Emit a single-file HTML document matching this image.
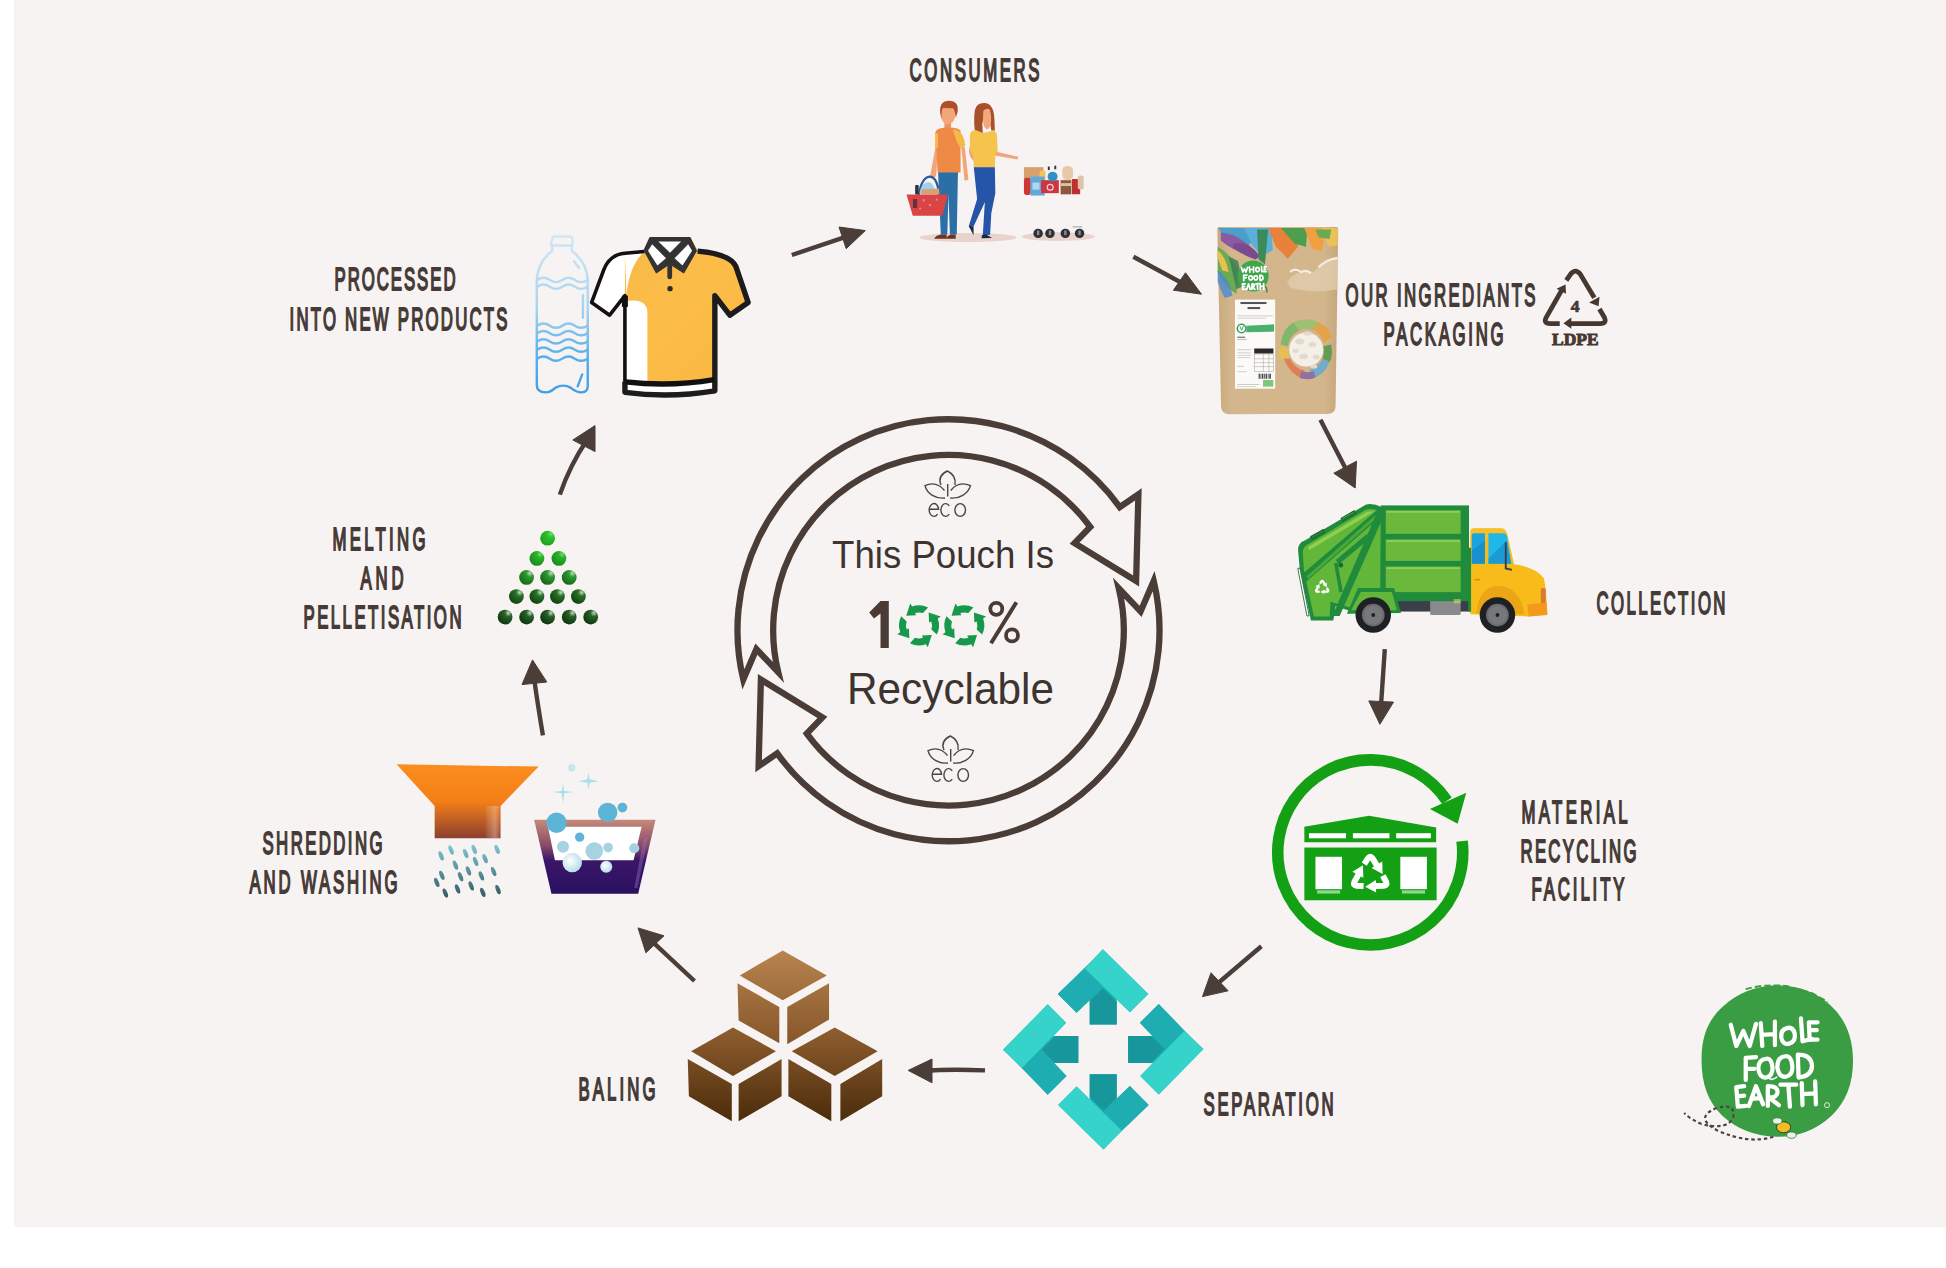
<!DOCTYPE html>
<html><head><meta charset="utf-8">
<style>
html,body{margin:0;padding:0;background:#fff;width:1946px;height:1268px;overflow:hidden}
svg{display:block}
.lb{font-family:"Liberation Sans",sans-serif;font-size:30.5px;fill:#463a36;stroke:#463a36;stroke-width:1.8px}
.rg{font-family:"Liberation Sans",sans-serif;fill:#3d3330}
</style></head>
<body>
<svg width="1946" height="1268" viewBox="0 0 1946 1268">
<defs>
<g id="rcy">
<g id="rca"><path d="M-14 -26 L-5 -40 Q0 -47 5 -40 L16 -22" fill="none" stroke-width="14" stroke-linejoin="round"/><polygon points="29,-3 3,-17 28,-32" stroke="none"/></g>
<use href="#rca" transform="rotate(120)"/><use href="#rca" transform="rotate(240)"/>
</g>
</defs>
<rect x="14" y="0" width="1932" height="1227" fill="#f7f3f2"/><rect x="14" y="0" width="10" height="1227" fill="#f5f4f2"/>

<!-- central recycling arrows -->
<g id="ring" fill="none" stroke="#4a3c37" stroke-width="6.3" stroke-linejoin="miter" stroke-miterlimit="10">
<path id="arw" d="M743.3 679.5 A211 211 0 0 1 1119.8 507.1 L1138.4 494.3 L1136.1 581.0 L1074.6 543.1 L1090.2 526.9 A175.4 175.4 0 0 0 778.2 672.1 L756.4 649.1 Z"/>
<use href="#arw" transform="rotate(180 948.5 630.25)"/>
</g>


<!-- 100% -->
<g fill="#4a3b35">
<polygon points="880.5,601 888.8,601 888.8,648 880.5,648 880.5,613.5 874,618.5 869.2,612.5"/>
<circle cx="996.3" cy="608.8" r="6" fill="none" stroke="#4a3b35" stroke-width="3.8"/>
<circle cx="1012" cy="635.4" r="6" fill="none" stroke="#4a3b35" stroke-width="3.8"/>
<path d="M1016.4 602.2 L991 643.3" stroke="#4a3b35" stroke-width="4" fill="none"/>
</g>
<defs><g id="rec4"><path id="rca4" d="M9.08 -17.82 A20 20 0 0 0 -6.84 -18.79 L-8.80 -21.79 L-12.78 -9.63 L-2.89 -10.09 L-4.02 -12.36 A13 13 0 0 1 4.02 -12.36 Z"/><use href="#rca4" transform="rotate(-90)"/><use href="#rca4" transform="rotate(-180)"/><use href="#rca4" transform="rotate(-270)"/></g></defs>
<g fill="#16994a"><use href="#rec4" transform="translate(919 625.4)"/><use href="#rec4" transform="translate(964.3 625.4)"/></g>
<!-- eco icons -->
<g id="eco" fill="none" stroke="#4a4543" stroke-width="1.4">
<path d="M941 485 C938 478 941 474 947.4 471 C953.5 474 956 479 955 485"/>
<path d="M945 498 C936 499 927 494 925 485.6 C933 482 940 485 944.5 490.5"/>
<path d="M950.2 498 C959 499 968 494 970.5 485.6 C962 482 955 485 950.7 490.5"/>
<path d="M947.7 484 L947.7 496.5"/>
<path d="M929.2 509.2 L938.6 509.2 M937.50 514.11 A4.70 6.40 0 1 1 938.60 509.94 M949.20 514.11 A4.70 6.40 0 1 1 949.20 505.89" stroke-width="1.4"/><ellipse cx="960.2" cy="510" rx="5.3" ry="6.4" stroke-width="1.4"/>
</g>
<use href="#eco" transform="translate(3 265)"/>

<!-- center text -->
<text class="rg" x="832" y="567.5" font-size="38" textLength="222" lengthAdjust="spacingAndGlyphs">This Pouch Is</text>
<text class="rg" x="847" y="704" font-size="45" textLength="207" lengthAdjust="spacingAndGlyphs">Recyclable</text>



<!-- truck -->
<g transform="translate(1290,495) scale(0.13875)">
<!-- chassis -->
<rect x="760" y="740" width="560" height="100" fill="#3b3f4a"/>
<rect x="1010" y="755" width="220" height="110" rx="10" fill="#8a8a8e"/>
<!-- compactor -->
<path d="M58 394 Q60 345 103 330 L549 68 Q600 58 661 86 L692 95 L690 765 L478 852 L330 800 L312 905 L151 905 L70 529 Z" fill="#1f8b3b"/>
<path d="M92 410 Q95 372 125 358 L549 104 Q590 96 640 113 L655 125 L650 742 L470 822 L292 770 L286 876 L172 876 L100 540 Z" fill="#62b73b"/>
<path d="M128 374 L552 122 L612 116 L138 398 Z" fill="#8fd050"/>
<path d="M92 568 L640 98 L684 128 L112 628 Z" fill="#1f8b3b"/>
<path d="M120 585 L610 150 L625 165 L130 605 Z" fill="#4aa838"/>
<path d="M305 872 L640 95 L692 112 L358 872 Z" fill="#1f8b3b"/>
<path d="M330 468 L552 282 L570 318 L352 500 Z" fill="#1f8b3b"/>
<path d="M330 490 L368 700" stroke="#1f8b3b" stroke-width="26"/>
<circle cx="366" cy="506" r="17" fill="#1a6a2e"/>
<path d="M56 529 L72 527 L138 870 L122 872 Z" fill="#fff" stroke="#1f5b30" stroke-width="6"/>
<path d="M150 300 L240 250 L250 268 L160 318 Z M370 168 L462 115 L472 133 L380 186 Z" fill="none" stroke="#1f6b30" stroke-width="9"/>
<!-- recycle icon -->
<g transform="translate(232 668) scale(1.15)" fill="#fff" stroke="#fff"><use href="#rcy"/></g>
<!-- container -->
<rect x="655" y="75" width="635" height="690" fill="#1f8b3b"/>
<rect x="690" y="110" width="540" height="170" fill="#6ab93d"/>
<rect x="690" y="320" width="540" height="155" fill="#6ab93d"/>
<rect x="690" y="515" width="540" height="185" fill="#6ab93d"/>
<rect x="695" y="118" width="530" height="8" fill="#a6d96c"/>
<rect x="695" y="328" width="530" height="8" fill="#a6d96c"/>
<rect x="695" y="523" width="530" height="8" fill="#a6d96c"/>
<!-- rear wheel surround -->
<path d="M410 855 L490 670 L750 670 L800 850 Z" fill="#1f8b3b"/>
<path d="M440 830 L510 700 L735 700 L770 830 Z" fill="#62b73b"/>
<rect x="1180" y="750" width="50" height="30" fill="#ddd36a" opacity="0.6"/>
<!-- cab -->
<path d="M1300 265 Q1300 240 1330 240 L1525 240 Q1555 245 1565 280 L1615 500 Q1770 520 1830 600 L1845 690 L1855 860 L1720 875 L1300 860 Z" fill="#f7bb1a"/>
<path d="M1300 265 Q1300 240 1330 240 L1525 240 Q1555 245 1565 280 L1575 320 L1300 320 Z" fill="#f9c236" opacity="0.6"/>
<rect x="1285" y="380" width="20" height="460" fill="#1f8b3b"/>
<path d="M1345 850 Q1360 660 1500 655 Q1660 660 1690 860 Z" fill="#eda415"/>
<path d="M1710 790 L1850 775 L1855 865 L1720 875 Z" fill="#f39a1c"/>
<rect x="1808" y="670" width="35" height="110" rx="15" fill="#d97a2e"/>
<path d="M1310 290 Q1310 275 1325 275 L1405 275 L1405 495 L1310 495 Z" fill="#1ba4dd"/>
<path d="M1430 275 L1545 275 Q1560 280 1565 300 L1595 495 L1430 495 Z" fill="#1fb6ea"/>
<path d="M1310 400 L1405 330 L1405 495 L1310 495 Z" fill="#1688c4" opacity="0.7"/>
<path d="M1430 460 L1560 330 L1595 495 L1430 495 Z" fill="#1688c4" opacity="0.6"/>
<path d="M1555 340 L1555 530 L1600 540" fill="none" stroke="#3b3f4a" stroke-width="14"/>
<rect x="1330" y="605" width="40" height="10" fill="#d08a20"/>
<!-- wheels -->
<circle cx="600" cy="865" r="128" fill="#1f2024"/>
<circle cx="600" cy="865" r="82" fill="#6b6c70"/>
<circle cx="600" cy="865" r="68" fill="#77787c"/>
<circle cx="600" cy="865" r="14" fill="#1f2024"/>
<circle cx="1495" cy="865" r="128" fill="#1f2024"/>
<circle cx="1495" cy="865" r="82" fill="#6b6c70"/>
<circle cx="1495" cy="865" r="68" fill="#77787c"/>
<circle cx="1495" cy="865" r="14" fill="#1f2024"/>
</g>


<!-- MRF icon -->
<g transform="translate(1250,740) scale(0.23126)">
<path d="M917.0 437.3 A400 400 0 1 1 851.6 262.3" fill="none" stroke="#14a014" stroke-width="50"/>
<polygon points="935,228 778,298 898,362" fill="#14a014"/>
<polygon points="235,375 515,328 805,378 805,442 235,442" fill="#14a014"/>
<rect x="255" y="403" width="160" height="22" fill="#fff"/>
<rect x="445" y="403" width="158" height="22" fill="#fff"/>
<rect x="632" y="403" width="150" height="22" fill="#fff"/>
<rect x="235" y="465" width="572" height="228" fill="#14a014"/>
<rect x="283" y="505" width="115" height="140" fill="#fff"/>
<rect x="650" y="505" width="115" height="140" fill="#fff"/>
<rect x="290" y="650" width="100" height="14" fill="#8fd88f"/>
<rect x="657" y="650" width="100" height="14" fill="#8fd88f"/>
<g transform="translate(520 585) scale(1.85)" fill="#fff" stroke="#fff"><use href="#rcy"/></g>
</g>

<!-- separation diamond -->
<g transform="translate(980,930) scale(0.19015)">
<g id="chev">
<polygon points="409,336 551,202 646,101 885,336 788,433 719,366 719,497 577,497 577,370 508,435" fill="#1eadb0"/>
<polygon points="610,141 409,336 508,435 700,250" fill="#1eadb0"/>
<polygon points="577,497 577,374 646,306 719,377 719,497" fill="#17979c"/>
<polygon points="646,101 885,336 788,433 551,202" fill="#36d3cb"/>
</g>
<use href="#chev" transform="rotate(90 648 628)"/>
<use href="#chev" transform="rotate(180 648 628)"/>
<use href="#chev" transform="rotate(270 648 628)"/>
</g>
<!-- baling cubes -->
<defs>
<linearGradient id="bg1" gradientUnits="userSpaceOnUse" x1="0" y1="135" x2="0" y2="890">
<stop offset="0" stop-color="#b8844f"/><stop offset="0.5" stop-color="#8a5a2c"/><stop offset="1" stop-color="#4b2c0b"/>
</linearGradient>
</defs>
<g transform="translate(560,920) scale(0.22611)" fill="url(#bg1)">
<polygon points="795,245 985,135 1180,245 985,355"/>
<polygon points="785,280 970,385 970,545 790,445"/>
<polygon points="1005,385 1190,280 1190,440 1005,550"/>
<polygon points="580,580 765,475 955,580 765,690"/>
<polygon points="565,615 760,725 760,890 570,780"/>
<polygon points="790,725 980,615 980,780 790,890"/>
<polygon points="1025,580 1215,475 1405,580 1215,690"/>
<polygon points="1010,615 1200,725 1200,890 1010,780"/>
<polygon points="1240,725 1425,615 1425,780 1240,890"/>
</g>


<!-- shredding and washing -->
<defs>
<linearGradient id="fun" gradientUnits="userSpaceOnUse" x1="0" y1="105" x2="0" y2="425">
<stop offset="0" stop-color="#fb8d1e"/><stop offset="0.5" stop-color="#f47f18"/><stop offset="1" stop-color="#8b3f2e"/>
</linearGradient>
<linearGradient id="tub" gradientUnits="userSpaceOnUse" x1="0" y1="345" x2="0" y2="665">
<stop offset="0" stop-color="#b97a62"/><stop offset="0.45" stop-color="#6a2a6a"/><stop offset="0.6" stop-color="#2f1460"/><stop offset="1" stop-color="#2a1568"/>
</linearGradient>
<radialGradient id="bub" cx="0.4" cy="0.4" r="0.6">
<stop offset="0" stop-color="#d8eef6"/><stop offset="1" stop-color="#74b8d8"/>
</radialGradient>
<radialGradient id="bub2" cx="0.4" cy="0.4" r="0.6">
<stop offset="0" stop-color="#ffffff"/><stop offset="1" stop-color="#b8dceb"/>
</radialGradient>
<radialGradient id="pel" cx="0.38" cy="0.35" r="0.65">
<stop offset="0" stop-color="#9ef09e"/><stop offset="0.35" stop-color="#2fae2f"/><stop offset="1" stop-color="#0c3d0e"/>
</radialGradient>
<radialGradient id="pel2" cx="0.38" cy="0.35" r="0.65">
<stop offset="0" stop-color="#88c888"/><stop offset="0.35" stop-color="#1f6f22"/><stop offset="1" stop-color="#062808"/>
</radialGradient>
</defs>
<g transform="translate(230,740) scale(0.23126)">
<defs>
<linearGradient id="pgr" gradientUnits="userSpaceOnUse" x1="0" y1="460" x2="0" y2="680"><stop offset="0" stop-color="#79c4d2"/><stop offset="1" stop-color="#365a62"/></linearGradient>
<linearGradient id="fhl" gradientUnits="userSpaceOnUse" x1="1100" y1="0" x2="1172" y2="0"><stop offset="0" stop-color="#fff" stop-opacity="0"/><stop offset="0.65" stop-color="#ffe0c8" stop-opacity="0.38"/><stop offset="1" stop-color="#fff" stop-opacity="0"/></linearGradient>
<linearGradient id="tub2" gradientUnits="userSpaceOnUse" x1="0" y1="345" x2="0" y2="665"><stop offset="0" stop-color="#c58a78"/><stop offset="0.35" stop-color="#8a4a6a"/><stop offset="0.55" stop-color="#3a1668"/><stop offset="1" stop-color="#2a1060"/></linearGradient>
</defs>
<polygon points="720,105 1335,115 1170,285 1170,425 885,425 885,285" fill="url(#fun)"/>
<rect x="1100" y="285" width="72" height="140" fill="url(#fhl)"/>
<g fill="url(#pgr)"><ellipse cx="913" cy="501" rx="9" ry="21" transform="rotate(-22 913 501)"/><ellipse cx="956" cy="476" rx="9" ry="21" transform="rotate(-22 956 476)"/><ellipse cx="1019" cy="491" rx="9" ry="21" transform="rotate(-22 1019 491)"/><ellipse cx="1056" cy="473" rx="9" ry="21" transform="rotate(-22 1056 473)"/><ellipse cx="1155" cy="473" rx="9" ry="21" transform="rotate(-22 1155 473)"/><ellipse cx="1103" cy="513" rx="9" ry="21" transform="rotate(-22 1103 513)"/><ellipse cx="975" cy="541" rx="9" ry="21" transform="rotate(-22 975 541)"/><ellipse cx="1062" cy="525" rx="9" ry="21" transform="rotate(-22 1062 525)"/><ellipse cx="1031" cy="566" rx="9" ry="21" transform="rotate(-22 1031 566)"/><ellipse cx="1140" cy="569" rx="9" ry="21" transform="rotate(-22 1140 569)"/><ellipse cx="916" cy="585" rx="9" ry="21" transform="rotate(-22 916 585)"/><ellipse cx="997" cy="591" rx="9" ry="21" transform="rotate(-22 997 591)"/><ellipse cx="1087" cy="588" rx="9" ry="21" transform="rotate(-22 1087 588)"/><ellipse cx="894" cy="616" rx="9" ry="21" transform="rotate(-22 894 616)"/><ellipse cx="984" cy="644" rx="9" ry="21" transform="rotate(-22 984 644)"/><ellipse cx="1043" cy="631" rx="9" ry="21" transform="rotate(-22 1043 631)"/><ellipse cx="1093" cy="659" rx="9" ry="21" transform="rotate(-22 1093 659)"/><ellipse cx="1159" cy="647" rx="9" ry="21" transform="rotate(-22 1159 647)"/><ellipse cx="931" cy="662" rx="9" ry="21" transform="rotate(-22 931 662)"/></g>
<polygon points="1315,345 1840,345 1765,665 1390,665" fill="url(#tub2)"/>
<polygon points="1375,375 1780,375 1745,520 1405,520" fill="#fff"/>
<polygon points="1790,420 1808,420 1762,640 1748,640" fill="#9a70c0" opacity="0.4"/>
<g fill="#5cb4d6">
<circle cx="1412" cy="358" r="44"/><circle cx="1633" cy="313" r="42"/><circle cx="1697" cy="292" r="21"/>
<circle cx="1512" cy="420" r="20"/>
</g>
<g fill="#a6d2e2"><circle cx="1440" cy="462" r="26"/><circle cx="1635" cy="465" r="21"/><circle cx="1748" cy="468" r="22"/><circle cx="1575" cy="480" r="38"/></g>
<g fill="url(#bub2)">
<circle cx="1480" cy="530" r="42"/><circle cx="1627" cy="548" r="26"/>
</g>
<g fill="#a8e0ea">
<path d="M1440 190 L1445 220 L1485 225 L1445 230 L1440 275 L1435 230 L1395 225 L1435 220 Z"/>
<path d="M1550 140 L1555 170 L1595 178 L1555 185 L1550 215 L1545 185 L1505 178 L1545 170 Z"/>
<circle cx="1478" cy="120" r="16" opacity="0.6"/>
</g>
</g>

<!-- pellets -->
<defs><radialGradient id="pl0" cx="0.72" cy="0.22" r="1"><stop offset="0" stop-color="#6ae06a"/><stop offset="0.25" stop-color="#2ec02e"/><stop offset="1" stop-color="#179a17"/></radialGradient><radialGradient id="pl1" cx="0.72" cy="0.22" r="1"><stop offset="0" stop-color="#6ae06a"/><stop offset="0.25" stop-color="#2cb02c"/><stop offset="1" stop-color="#128212"/></radialGradient><radialGradient id="pl2" cx="0.72" cy="0.22" r="1"><stop offset="0" stop-color="#c0dcc0"/><stop offset="0.25" stop-color="#2f9a2f"/><stop offset="1" stop-color="#0c5a10"/></radialGradient><radialGradient id="pl3" cx="0.72" cy="0.22" r="1"><stop offset="0" stop-color="#c0dcc0"/><stop offset="0.25" stop-color="#2a702a"/><stop offset="1" stop-color="#063808"/></radialGradient><radialGradient id="pl4" cx="0.72" cy="0.22" r="1"><stop offset="0" stop-color="#c0dcc0"/><stop offset="0.25" stop-color="#2a602a"/><stop offset="1" stop-color="#042a06"/></radialGradient></defs>
<g><circle cx="547.6" cy="538.2" r="7.4" fill="url(#pl0)"/><circle cx="536.9" cy="558.4" r="7.4" fill="url(#pl1)"/><circle cx="558.9" cy="558.4" r="7.4" fill="url(#pl1)"/><circle cx="526.6" cy="577.4" r="7.4" fill="url(#pl2)"/><circle cx="547.6" cy="577.4" r="7.4" fill="url(#pl2)"/><circle cx="569.2" cy="577.4" r="7.4" fill="url(#pl2)"/><circle cx="516.4" cy="596.6" r="7.4" fill="url(#pl3)"/><circle cx="536.9" cy="596.6" r="7.4" fill="url(#pl3)"/><circle cx="557.4" cy="596.6" r="7.4" fill="url(#pl3)"/><circle cx="578.4" cy="596.6" r="7.4" fill="url(#pl3)"/><circle cx="505.1" cy="617.1" r="7.4" fill="url(#pl4)"/><circle cx="526.6" cy="617.1" r="7.4" fill="url(#pl4)"/><circle cx="547.6" cy="617.1" r="7.4" fill="url(#pl4)"/><circle cx="569.2" cy="617.1" r="7.4" fill="url(#pl4)"/><circle cx="590.7" cy="617.1" r="7.4" fill="url(#pl4)"/></g>
<!-- consumers -->
<g transform="translate(900,95) scale(0.11827)">
<ellipse cx="575" cy="1205" rx="410" ry="38" fill="#e8d4cc"/>
<ellipse cx="1338" cy="1197" rx="310" ry="37" fill="#e8d4cc"/>
<!-- man -->
<path d="M322 650 L490 650 L480 1180 L422 1180 L410 840 L400 1180 L345 1180 Z" fill="#2b6fa6"/>
<path d="M290 1215 Q300 1190 345 1180 L395 1180 L395 1215 Z M390 1215 Q400 1190 430 1180 L470 1180 L472 1215 Z" fill="#6a3522"/>
<path d="M300 440 L322 450 L305 690 Q280 700 255 685 Z" fill="#f2a47a"/>
<path d="M518 440 L548 440 L578 712 Q560 730 545 718 Z" fill="#f2a47a"/>
<path d="M375 225 L432 225 L432 292 L375 292 Z" fill="#e8956a"/>
<path d="M300 315 Q305 282 372 276 L450 276 Q505 282 512 305 L512 655 L318 655 Z" fill="#ee8a45"/>
<path d="M300 315 L295 445 L322 450 L322 330 Z" fill="#f5b746"/>
<path d="M448 290 Q540 298 552 430 L515 448 Q480 420 448 290 Z" fill="#f5b947"/>
<ellipse cx="406" cy="168" rx="62" ry="78" fill="#f3a67a"/>
<path d="M340 150 Q330 45 420 48 Q498 52 488 140 L472 195 Q468 140 448 112 L362 110 Q350 140 350 200 Z" fill="#ad4f2a"/>
<!-- basket -->
<path d="M158 845 Q185 690 255 690 Q318 698 330 845" fill="none" stroke="#2b5a9e" stroke-width="20"/>
<path d="M165 830 Q180 740 240 735 Q290 740 300 830 Z" fill="#9ed0e8"/>
<path d="M180 800 L330 790 L335 840 L180 840 Z" fill="#d9a070"/>
<rect x="128" y="760" width="30" height="82" rx="8" fill="#303040"/>
<path d="M55 842 L405 842 L358 1020 L108 1020 Z" fill="#d94545"/>
<g fill="#f0a0a0" opacity="0.7"><circle cx="200" cy="890" r="10"/><circle cx="255" cy="930" r="10"/><circle cx="310" cy="885" r="9"/><circle cx="170" cy="960" r="9"/></g>
<rect x="110" y="880" width="35" height="75" fill="#4a2a3a" opacity="0.8"/>
<!-- woman -->
<path d="M632 130 Q648 62 720 68 Q792 76 798 200 L802 300 L772 300 L748 145 Q708 165 696 240 L702 372 L642 352 Q618 250 632 130 Z" fill="#a8502c"/>
<path d="M705 130 Q735 105 760 125 Q775 170 770 225 Q762 288 738 290 Q715 285 706 250 Q698 200 705 130 Z" fill="#f3a77a"/>
<path d="M805 478 L1000 522 L994 546 L800 512 Z" fill="#f2a47a"/>
<path d="M588 440 Q572 505 612 548 L742 652 L768 668 L762 640 L652 530 L628 448 Z" fill="#f2a47a"/>
<path d="M592 332 Q600 300 640 296 L700 322 L790 302 Q815 306 820 342 L826 480 L806 492 L802 615 L624 615 L620 520 L590 452 Z" fill="#f4c44c"/>
<path d="M624 610 L802 610 L806 830 L772 1000 L762 1182 L700 1186 L714 960 L718 905 L622 1112 L582 1108 L652 880 Z" fill="#2555a8"/>
<path d="M580 1106 L622 1112 L622 1186 Z" fill="#1c2840"/>
<path d="M692 1186 L725 1178 L778 1210 L690 1212 Z" fill="#1c2840"/>
<!-- cart -->
<rect x="1048" y="610" width="165" height="95" fill="#d7a070"/>
<rect x="1180" y="640" width="50" height="75" fill="#f0c45a"/>
<rect x="1048" y="700" width="58" height="145" rx="18" fill="#cf3535"/>
<rect x="1103" y="690" width="120" height="160" fill="#5faad8"/>
<rect x="1120" y="740" width="60" height="60" fill="#e8f4fa" opacity="0.6"/>
<rect x="1193" y="720" width="150" height="110" fill="#cf3540"/>
<circle cx="1270" cy="780" r="25" fill="none" stroke="#fff" stroke-width="10" opacity="0.8"/>
<circle cx="1290" cy="690" r="42" fill="#2f90c2"/>
<rect x="1250" y="605" width="16" height="30" fill="#303040"/>
<rect x="1305" y="598" width="16" height="30" fill="#303040"/>
<rect x="1358" y="720" width="90" height="120" fill="#8a5a3a"/>
<rect x="1360" y="745" width="86" height="25" fill="#e0c0a0"/>
<rect x="1373" y="600" width="90" height="120" rx="40" fill="#e8c8a8"/>
<rect x="1453" y="710" width="70" height="130" rx="10" fill="#c02e2e"/>
<rect x="1503" y="680" width="50" height="120" rx="20" fill="#e0c4a8"/>
<g fill="#2e2e34"><circle cx="1168" cy="1170" r="40"/><circle cx="1268" cy="1170" r="40"/><circle cx="1398" cy="1170" r="40"/><circle cx="1518" cy="1170" r="40"/></g>
<g fill="#8a8a92"><rect x="1158" y="1145" width="20" height="40"/><rect x="1258" y="1145" width="20" height="40"/><rect x="1388" y="1145" width="20" height="40"/><rect x="1508" y="1145" width="20" height="40"/></g>
<path d="M1460 1115 L1540 1115" stroke="#aaa" stroke-width="10"/>
</g>
<!-- packaging pouch -->
<defs>
<linearGradient id="kraft" x1="0" y1="0" x2="1" y2="0">
<stop offset="0" stop-color="#c8aa7e"/><stop offset="0.12" stop-color="#d3b68c"/><stop offset="0.88" stop-color="#d3b68c"/><stop offset="1" stop-color="#c6a77a"/>
</linearGradient>
</defs>
<g transform="translate(1205,220) scale(0.15766)">
<path d="M78 55 Q78 45 90 45 L835 45 Q845 45 845 55 L828 1185 Q825 1228 780 1230 L150 1232 Q105 1228 102 1185 Z" fill="url(#kraft)"/>
<path d="M520 390 Q600 300 690 330 Q760 250 845 230 L842 440 Q700 470 540 430 Z" fill="#e0cfb0" opacity="0.75"/>
<path d="M540 330 Q570 300 610 330 Q650 310 670 340" fill="none" stroke="#f4ece0" stroke-width="14"/>
<path d="M720 300 Q770 250 840 240" fill="none" stroke="#f4ece0" stroke-width="14"/>
<!-- leaves -->
<path d="M85 50 L250 50 L300 140 L230 200 L150 160 Z" fill="#4aa0c8"/>
<path d="M100 80 Q220 90 330 210 L295 235 Q170 190 100 130 Z" fill="#8a5aa0"/>
<path d="M180 150 Q270 130 350 230 L320 250 Q230 220 180 175 Z" fill="#7a4a90"/>
<path d="M250 50 L420 50 L430 190 L360 230 L300 160 Z" fill="#5ab0d8"/>
<path d="M330 60 L400 60 L380 280 L340 250 Z" fill="#3a8a5a"/>
<path d="M400 50 L570 50 L590 170 L525 245 L450 170 Z" fill="#e8823a"/>
<path d="M480 50 L650 50 L640 170 L570 150 Z" fill="#4e9e4e"/>
<path d="M630 50 L770 50 L740 200 L680 180 Z" fill="#f0a040"/>
<path d="M740 50 L843 50 L842 160 L780 170 Z" fill="#e9c05a"/>
<path d="M700 60 L800 60 L790 120 L720 110 Z" fill="#6aaa50"/>
<path d="M80 170 Q160 210 210 320 L200 470 Q120 420 80 330 Z" fill="#6aaa50"/>
<path d="M80 190 Q130 230 150 330 L110 320 Q85 260 80 230 Z" fill="#e8c050"/>
<path d="M80 320 Q150 360 175 480 L125 495 Q92 430 80 390 Z" fill="#4a8ad0" opacity="0.8"/>
<path d="M150 230 L210 260 L240 420 L200 440 Z" fill="#3a7a50" opacity="0.8"/>
<circle cx="305" cy="355" r="98" fill="#40a64c"/>
<path d="M380 420 Q400 440 390 460" fill="none" stroke="#3a7a40" stroke-width="8"/>
<g fill="none" stroke="#fff" stroke-width="11" stroke-linecap="round" stroke-linejoin="round" transform="translate(-10 0)">
<path d="M398 298 L386 298 L387 328 L399 328 M387 313 L396 313"/>
<path d="M240 300 L250 330 L260 310 L270 330 L280 300 M292 298 L294 330 M318 298 L318 330 M294 314 L318 314 M345 300 Q332 300 332 315 Q334 330 346 328 Q356 324 355 312 Q352 300 345 300 Z M368 296 L370 328 L386 326"/>
<path d="M255 350 L256 385 M255 350 L276 349 M256 366 L272 366 M300 354 Q288 354 288 368 Q290 382 301 380 Q312 377 311 365 Q309 352 300 354 Z M333 354 Q321 354 321 368 Q323 382 334 380 Q345 377 344 365 Q342 352 333 354 Z M358 350 L360 384 Q380 380 378 366 Q376 350 358 350 Z"/>
<path d="M265 405 L248 405 L250 440 L268 438 M249 422 L262 422 M275 440 L286 405 L297 440 M308 440 L308 405 Q326 405 322 420 L310 422 L326 440 M332 405 L352 404 M342 404 L344 440 M360 404 L361 440 M382 403 L383 440 M361 421 L382 421"/>
</g>
<!-- label -->
<rect x="190" y="505" width="255" height="565" fill="#fbfaf6"/>
<rect x="225" y="520" width="165" height="13" fill="#555"/>
<rect x="270" y="552" width="80" height="13" fill="#555"/>
<rect x="205" y="605" width="225" height="6" fill="#ccc"/>
<rect x="205" y="620" width="180" height="6" fill="#ccc"/>
<circle cx="232" cy="688" r="32" fill="#3aa060"/>
<circle cx="232" cy="688" r="22" fill="#fff"/>
<path d="M222 675 L232 700 L244 672" fill="none" stroke="#3aa060" stroke-width="6"/>
<path d="M262 670 L438 662 L438 708 L262 712 Z" fill="#4ab070"/>
<rect x="205" y="740" width="50" height="8" fill="#777"/>
<rect x="205" y="755" width="60" height="6" fill="#bbb"/>
<g fill="#c8c8c8"><rect x="205" y="820" width="90" height="6"/><rect x="205" y="840" width="85" height="5"/><rect x="205" y="855" width="90" height="5"/><rect x="205" y="870" width="80" height="5"/><rect x="205" y="925" width="40" height="6"/><rect x="205" y="960" width="60" height="5"/><rect x="205" y="1040" width="140" height="6"/><rect x="205" y="1055" width="120" height="5"/></g>
<rect x="312" y="815" width="122" height="32" fill="#2a2a2a"/>
<g fill="none" stroke="#999" stroke-width="3"><rect x="312" y="850" width="122" height="110"/><path d="M312 880 L434 880 M312 905 L434 905 M312 930 L434 930 M370 850 L370 960 M405 850 L405 960"/></g>
<g fill="#444"><rect x="340" y="975" width="8" height="32"/><rect x="352" y="975" width="4" height="32"/><rect x="360" y="975" width="10" height="32"/><rect x="374" y="975" width="5" height="32"/><rect x="384" y="975" width="9" height="32"/><rect x="398" y="975" width="5" height="32"/><rect x="408" y="975" width="10" height="32"/></g>
<rect x="368" y="1015" width="65" height="42" fill="#7cc87c"/>
<!-- beans -->
<g opacity="0.9">
<path d="M480 790 Q490 690 560 650 L600 700 Q530 740 525 800 Z" fill="#7ab868"/>
<path d="M470 880 Q460 820 480 800 L530 820 Q525 860 540 880 Z" fill="#e8c050"/>
<path d="M690 640 Q780 660 805 740 L755 780 Q730 710 675 695 Z" fill="#e8a040"/>
<path d="M800 790 Q815 860 790 900 L745 880 Q760 840 750 800 Z" fill="#5a9a50"/>
<path d="M790 900 Q760 980 690 1000 L665 950 Q730 920 745 880 Z" fill="#6aaad0"/>
<path d="M500 880 Q540 980 620 1005 L630 955 Q560 935 540 880 Z" fill="#e07a50"/>
<path d="M560 650 Q640 610 720 650 L680 700 Q640 680 600 700 Z" fill="#9ac070"/>
<path d="M600 1000 Q650 1020 700 1000 L690 960 Q650 970 610 960 Z" fill="#8a6aa8"/>
</g>
<circle cx="642" cy="822" r="108" fill="#f4f0e8"/>
<g fill="#e2dace"><ellipse cx="600" cy="770" rx="28" ry="18"/><ellipse cx="680" cy="790" rx="25" ry="16"/><ellipse cx="625" cy="865" rx="28" ry="17"/><ellipse cx="705" cy="870" rx="22" ry="15"/><ellipse cx="575" cy="830" rx="20" ry="14"/><ellipse cx="650" cy="720" rx="25" ry="14"/><ellipse cx="690" cy="930" rx="22" ry="14"/></g>
</g>
<!-- LDPE symbol -->
<g transform="translate(1535,260) scale(0.07491)" fill="#46382f">
<g fill="none" stroke="#46382f" stroke-width="64" stroke-linejoin="round">
<path d="M418 272 L478 185 Q540 110 602 185 L792 505"/>
<path d="M860 655 L925 765 Q965 848 870 848 L470 848"/>
<path d="M330 848 L205 848 Q105 845 150 765 L355 405"/>
</g>
<polygon points="848,618 722,568 862,492"/>
<polygon points="380,843 485,768 485,918"/>
<polygon points="408,328 288,385 414,452"/>
<text x="535" y="690" font-family="Liberation Serif" font-weight="bold" font-size="235" text-anchor="middle" stroke="#46382f" stroke-width="10">4</text>
<text x="538" y="1140" font-family="Liberation Serif" font-weight="bold" font-size="215" text-anchor="middle" textLength="620" lengthAdjust="spacingAndGlyphs" stroke="#46382f" stroke-width="12">LDPE</text>
</g>
<!-- whole food earth logo -->
<g transform="translate(1670,960) scale(0.15778)">
<path d="M200 640 Q195 420 330 300 Q470 165 680 160 Q890 165 1020 290 Q1160 420 1160 640 Q1160 860 1020 990 Q880 1120 680 1120 Q470 1115 330 985 Q200 860 200 640 Z" fill="#3b9d43"/>
<path d="M480 185 Q600 150 740 165 L900 210 L1000 265" fill="none" stroke="#3b9d43" stroke-width="12" stroke-dasharray="40 20"/>
<g fill="none" stroke="#4a4543" stroke-width="14" stroke-dasharray="22 18">
<path d="M655 1120 Q500 1170 300 1080 Q150 1000 290 940 Q420 900 400 1000 Q360 1080 200 1040 Q130 1010 90 970"/>
</g>
<g fill="none" stroke="#fff" stroke-width="27" stroke-linecap="round" stroke-linejoin="round">
<path d="M385 410 L420 545 L465 450 L505 545 L545 405"/>
<path d="M575 400 L585 545 M665 390 L665 540 M580 475 L660 470"/>
<path d="M745 430 Q700 440 705 490 Q715 540 755 530 Q800 515 790 465 Q780 425 745 430 Z"/>
<path d="M830 370 L840 515 L900 500"/>
<path d="M935 395 L880 395 L885 505 L935 505 M885 445 L930 445"/>
<path d="M480 620 L480 760 M480 620 L545 615 M480 690 L535 690"/>
<path d="M610 625 Q560 630 560 690 Q570 750 610 745 Q650 735 650 685 Q645 620 610 625 Z"/>
<path d="M730 610 Q680 615 680 680 Q690 745 735 740 Q780 730 775 670 Q770 605 730 610 Z"/>
<path d="M810 600 L815 745 Q900 735 900 670 Q895 600 810 600 Z"/>
<path d="M470 800 L420 805 L430 930 L480 925 M425 865 L470 860"/>
<path d="M500 925 L545 800 L590 915 M515 880 L575 875"/>
<path d="M620 925 L620 800 Q690 800 680 845 Q670 875 625 870 L690 920"/>
<path d="M700 790 L800 790 M750 790 L760 930"/>
<path d="M835 780 L840 920 M920 770 L925 915 M840 850 L920 845"/>
</g>
<path d="M620 745 Q645 770 680 740" fill="none" stroke="#fff" stroke-width="10"/>
<circle cx="995" cy="920" r="16" fill="none" stroke="#fff" stroke-width="5"/>
<ellipse cx="720" cy="1060" rx="45" ry="35" fill="#f0c020" stroke="#333" stroke-width="6"/>
<ellipse cx="680" cy="1020" rx="30" ry="20" fill="#e8f0e8" stroke="#2a7a2a" stroke-width="5"/>
<ellipse cx="770" cy="1110" rx="30" ry="20" fill="#e8f0e8" stroke="#2a7a2a" stroke-width="5"/>
</g>

<!-- bottle and shirt -->
<defs>
<linearGradient id="btl" gradientUnits="userSpaceOnUse" x1="0" y1="110" x2="0" y2="1160">
<stop offset="0" stop-color="#cfe6f4"/><stop offset="0.45" stop-color="#a8d4f0"/><stop offset="0.75" stop-color="#5ab0ea"/><stop offset="1" stop-color="#3f9fe6"/>
</linearGradient>
<linearGradient id="shy" x1="0" y1="0" x2="1" y2="1">
<stop offset="0" stop-color="#f6b848"/><stop offset="0.5" stop-color="#fcbd48"/><stop offset="1" stop-color="#f8b640"/>
</linearGradient>
</defs>
<g transform="translate(520,220) scale(0.14988)">
<g fill="none" stroke="url(#btl)" stroke-width="16" stroke-linecap="round" stroke-linejoin="round">
<path d="M215 125 Q215 110 232 110 L325 110 Q350 110 350 130 L350 170 L205 170 Z"/>
<path d="M215 170 L215 205 Q120 280 112 400 L112 1100 Q112 1150 170 1150 Q205 1150 235 1120 Q290 1090 340 1120 Q375 1150 410 1150 Q455 1150 452 1100 L452 400 Q445 280 345 205 L345 170"/>
<path d="M115 400 Q157 371 199 400 Q241 429 282 400 Q324 371 366 400 Q408 429 450 400  M115 445 Q157 416 199 445 Q241 474 282 445 Q324 416 366 445 Q408 474 450 445  M115 705 Q157 676 199 705 Q241 734 282 705 Q324 676 366 705 Q408 734 450 705  M115 755 Q157 726 199 755 Q241 784 282 755 Q324 726 366 755 Q408 784 450 755  M115 810 Q157 781 199 810 Q241 839 282 810 Q324 781 366 810 Q408 839 450 810  M115 865 Q157 836 199 865 Q241 894 282 865 Q324 836 366 865 Q408 894 450 865  M115 925 Q157 896 199 925 Q241 954 282 925 Q324 896 366 925 Q408 954 450 925 "/>
<path d="M420 500 L420 650 M360 275 L395 320 M415 1030 L385 1110"/>
</g>
<path d="M700 225 Q600 230 560 330 L470 550 L600 640 L700 500 L700 1150 L1300 1150 L1300 500 L1400 640 L1530 550 L1440 310 Q1400 220 1190 210 L1140 120 L865 120 L830 210 Z" fill="url(#shy)"/>
<path d="M700 225 Q600 230 560 330 L470 550 L600 640 L700 500 L710 540 Q850 520 850 620 L850 1080 L700 1080 Z" fill="#fff"/>
<path d="M700 225 Q770 220 830 210 Q730 300 710 500 Z" fill="#fff"/>
<path d="M705 1075 Q1000 1110 1295 1060 L1295 1130 Q1000 1180 705 1140 Z" fill="#fff"/>
<g fill="none" stroke="#111" stroke-width="36" stroke-linejoin="round">
<path d="M830 210 L700 222 Q600 230 560 330 L478 550 L598 635 L700 505 L700 1100" stroke-width="24"/>
<path d="M700 1080 L700 1150 Q1000 1190 1300 1140 L1300 505 L1400 635 L1522 550 L1440 310 Q1400 225 1185 208" stroke="#1c1c1c"/>
<path d="M700 505 L700 580" stroke-width="40"/>
<path d="M705 1080 Q1000 1115 1295 1065"/>
</g>
<path d="M869 120 L1132 120 L1173 205 L1091 348 L999 288 L911 348 L832 202 Z" fill="#333" stroke="#333" stroke-width="14" stroke-linejoin="round"/>
<polygon points="923,143 1075,143 1001,218" fill="#fff"/>
<polygon points="854,205 882,161 974,256 917,304" fill="#fff"/>
<polygon points="1031,256 1122,161 1148,205 1084,304" fill="#fff"/>
<path d="M999 290 L999 380" stroke="#333" stroke-width="32" stroke-linecap="round"/>
<circle cx="1001" cy="458" r="18" fill="#2a2a2a"/>
</g>

<!-- connector arrows -->
<g fill="#4b3d38" stroke="#4b3d38" stroke-width="4.4" stroke-linecap="butt">
<path d="M791.8 255.0 L849.4 235.7"/><polygon stroke-width="1" points="865.3,230.6 839.0,227.0 846.2,248.7"/>
<path d="M1133.4 256.8 L1186.1 285.3"/><polygon stroke-width="1" points="1201.5,294.2 1173.4,290.2 1185.5,272.8"/>
<path d="M1320.4 419.8 L1348.2 473.4"/><polygon stroke-width="1" points="1355.2,488.0 1333.8,473.2 1356.5,461.2"/>
<path d="M1384.8 649.1 L1380.8 708.3"/><polygon stroke-width="1" points="1379.9,724.3 1368.8,700.9 1393.5,702.1"/>
<path d="M1261.4 946.2 L1214.4 986.2"/><polygon stroke-width="1" points="1202.5,996.6 1211.0,972.8 1228.1,990.8"/>
<path d="M985.0 1070.4 Q950 1069 924.9 1070.8" fill="none"/><polygon stroke-width="1" points="908.2,1070.4 932.0,1059.0 932.0,1082.8"/>
<path d="M694.5 981.0 L649.9 939.4"/><polygon stroke-width="1" points="638.0,927.9 664.0,935.8 645.9,952.8"/>
<path d="M542.9 735.4 Q537 700 533.8 676.3" fill="none"/><polygon stroke-width="1" points="532.5,659.9 522.0,684.6 546.8,682.0"/>
<path d="M559.8 494.6 Q570 465 587.2 439.7" fill="none"/><polygon stroke-width="1" points="595.0,425.6 572.8,440.0 595.0,451.6"/>
</g>

<!-- labels -->
<g class="lb">
<text transform="translate(909.5 80.7) scale(0.55 1)" textLength="236.4" lengthAdjust="spacing">CONSUMERS</text>
<text transform="translate(1345.5 305.7) scale(0.55 1)" textLength="345.5" lengthAdjust="spacing">OUR INGREDIANTS</text>
<text transform="translate(1383.5 344.7) scale(0.55 1)" textLength="218.2" lengthAdjust="spacing">PACKAGING</text>
<text transform="translate(1596.5 614.2) scale(0.55 1)" textLength="234.5" lengthAdjust="spacing">COLLECTION</text>
<text transform="translate(1521.5 822.7) scale(0.55 1)" textLength="192.7" lengthAdjust="spacing">MATERIAL</text>
<text transform="translate(1520.5 861.7) scale(0.55 1)" textLength="210.9" lengthAdjust="spacing">RECYCLING</text>
<text transform="translate(1531.5 900.2) scale(0.55 1)" textLength="169.1" lengthAdjust="spacing">FACILITY</text>
<text transform="translate(1203.5 1114.7) scale(0.55 1)" textLength="236.4" lengthAdjust="spacing">SEPARATION</text>
<text transform="translate(578.5 1099.7) scale(0.55 1)" textLength="140.0" lengthAdjust="spacing">BALING</text>
<text transform="translate(262.5 854.2) scale(0.55 1)" textLength="218.2" lengthAdjust="spacing">SHREDDING</text>
<text transform="translate(249.5 892.7) scale(0.55 1)" textLength="269.1" lengthAdjust="spacing">AND WASHING</text>
<text transform="translate(332.5 550.2) scale(0.55 1)" textLength="169.1" lengthAdjust="spacing">MELTING</text>
<text transform="translate(360.5 589.2) scale(0.55 1)" textLength="78.2" lengthAdjust="spacing">AND</text>
<text transform="translate(303.5 627.7) scale(0.55 1)" textLength="287.3" lengthAdjust="spacing">PELLETISATION</text>
<text transform="translate(334.5 290.2) scale(0.55 1)" textLength="220.0" lengthAdjust="spacing">PROCESSED</text>
<text transform="translate(289.5 329.7) scale(0.55 1)" textLength="396.4" lengthAdjust="spacing">INTO NEW PRODUCTS</text>
</g>

</svg>
</body></html>
